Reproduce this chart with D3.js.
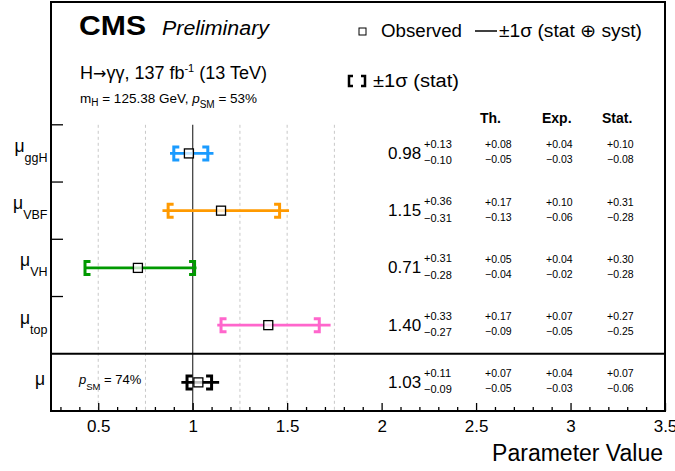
<!DOCTYPE html>
<html><head><meta charset="utf-8">
<script src="https://cdn.jsdelivr.net/npm/d3@7"></script>
<style>
body{margin:0;background:#fff;}
svg{font-family:"Liberation Sans",Arial,Helvetica,sans-serif;}
</style></head>
<body><svg id="c" width="675" height="471"></svg>
<script>
// ---- data ----
const params   = ["ggH","VBF","VH","top","incl"];
const labelSub = ["ggH","VBF","VH","top",""];
const colors   = ["#1a9bff","#ff9a00","#009900","#ff66cc","#000000"];
const observed = [0.98,1.15,0.71,1.40,1.03];
const totUp    = [0.13,0.36,0.31,0.33,0.11];
const totDn    = [0.10,0.31,0.28,0.27,0.09];
const thUp     = [0.08,0.17,0.05,0.17,0.07];
const thDn     = [0.05,0.13,0.04,0.09,0.05];
const expUp    = [0.04,0.10,0.04,0.07,0.04];
const expDn    = [0.03,0.06,0.02,0.05,0.03];
const statUp   = [0.10,0.31,0.30,0.27,0.07];
const statDn   = [0.08,0.28,0.28,0.25,0.06];
const majorTicks = [0.5,1,1.5,2,2.5,3,3.5];
const gridDashed = [0.5,0.75,1.25,1.5,1.75];

const svg = d3.select("#c");
const L=51, R=665, T=2, B=411, rowTop=124.8;
const x = d3.scaleLinear().domain([0.25,3.5]).range([L,R]);
const y = d3.scaleBand().domain(params).range([rowTop,B]).padding(0);
const f2 = d3.format(".2f");
const minus = s => s.replace("-","\u2212");

// grid
svg.selectAll("line.grid").data(gridDashed).join("line")
  .attr("x1",d=>x(d)).attr("x2",d=>x(d)).attr("y1",rowTop).attr("y2",B)
  .attr("stroke","#c8c8c8").attr("stroke-width",1).attr("stroke-dasharray","3,3");
svg.append("line").attr("x1",x(1)).attr("x2",x(1)).attr("y1",rowTop).attr("y2",B)
  .attr("stroke","#444").attr("stroke-width",1.3);

// axes ticks
const minor = d3.range(3,35).map(v=>v/10).filter(v=>Math.abs(v*2-Math.round(v*2))>1e-6);
const gMinor = svg.append("g").attr("transform",`translate(0,${B})`)
  .call(d3.axisBottom(x).tickValues(minor).tickSizeInner(-4).tickSizeOuter(0).tickFormat(""));
const gMajor = svg.append("g").attr("transform",`translate(0,${B})`)
  .call(d3.axisBottom(x).tickValues(majorTicks).tickSizeInner(-8).tickSizeOuter(0).tickPadding(9).tickFormat(d3.format("~g")));
[gMinor,gMajor].forEach(g=>{g.select(".domain").remove();g.selectAll("line").attr("stroke","#000").attr("stroke-width",1.3);});
gMajor.selectAll("text").attr("font-size",17).attr("fill","#000").attr("font-family","Liberation Sans, Arial, sans-serif");

// left ticks at row boundaries
svg.selectAll("line.ytick").data(params.slice(0,4)).join("line")
  .attr("x1",L).attr("x2",L+12).attr("y1",d=>y(d)).attr("y2",d=>y(d))
  .attr("stroke","#000").attr("stroke-width",1.3);

// frame & divider
svg.append("rect").attr("x",L).attr("y",T).attr("width",R-L).attr("height",B-T)
  .attr("fill","none").attr("stroke","#000").attr("stroke-width",2);
svg.append("line").attr("x1",L).attr("x2",R).attr("y1",y("incl")).attr("y2",y("incl"))
  .attr("stroke","#000").attr("stroke-width",2);

// error bars
params.forEach((p,i)=>{
  const cy = y(p)+y.bandwidth()/2;
  const c = colors[i];
  const g = svg.append("g");
  g.append("line").attr("x1",x(observed[i]-totDn[i])).attr("x2",x(observed[i]+totUp[i]))
    .attr("y1",cy).attr("y2",cy).attr("stroke",c).attr("stroke-width",2.6);
  const xl = x(observed[i]-statDn[i]), xr = x(observed[i]+statUp[i]);
  const h=6.5, a=5.5;
  g.append("path").attr("d",`M${xl+a},${cy-h}H${xl}V${cy+h}H${xl+a}`)
    .attr("fill","none").attr("stroke",c).attr("stroke-width",3);
  g.append("path").attr("d",`M${xr-a},${cy-h}H${xr}V${cy+h}H${xr-a}`)
    .attr("fill","none").attr("stroke",c).attr("stroke-width",3);
  g.append("rect").attr("x",x(observed[i])-4.5).attr("y",cy-4.5).attr("width",9).attr("height",9)
    .attr("fill","#fff").attr("fill-opacity",0.75).attr("stroke","#000").attr("stroke-width",1.3);

  // value column
  svg.append("text").attr("x",388).attr("y",cy+5.5).attr("font-size",17).text(f2(observed[i]));
  svg.append("text").attr("x",424).attr("y",cy-5.5).attr("font-size",11).text("+"+f2(totUp[i]));
  svg.append("text").attr("x",424).attr("y",cy+11).attr("font-size",11).text(minus("-"+f2(totDn[i])));
  [[thUp,thDn,485],[expUp,expDn,546],[statUp,statDn,607]].forEach(([u,d,xx])=>{
    svg.append("text").attr("x",xx).attr("y",cy-5).attr("font-size",10.5).text("+"+f2(u[i]));
    svg.append("text").attr("x",xx).attr("y",cy+10).attr("font-size",10.5).text(minus("-"+f2(d[i])));
  });

  // y labels
  const t = svg.append("text").attr("text-anchor","end")
    .attr("x", labelSub[i] ? 47.5 : 45).attr("y", labelSub[i] ? cy-1.5 : cy+3).attr("font-size",17.5);
  t.append("tspan").text("\u03bc");
  if(labelSub[i]) t.append("tspan").attr("font-size",12.5).attr("dy",10).text(labelSub[i]);
});

// column headers
[["Th.",480],["Exp.",542],["Stat.",602]].forEach(([s,xx])=>{
  svg.append("text").attr("x",xx).attr("y",123).attr("font-size",14).attr("font-weight","bold").text(s);
});

// header texts
svg.append("text").attr("x",79).attr("y",35).attr("font-size",28).attr("font-weight","bold")
  .attr("textLength",67).attr("lengthAdjust","spacingAndGlyphs").text("CMS");
svg.append("text").attr("x",162).attr("y",35).attr("font-size",20).attr("font-style","italic")
  .attr("textLength",107).attr("lengthAdjust","spacingAndGlyphs").text("Preliminary");
const h1 = svg.append("text").attr("x",80).attr("y",79).attr("font-size",18);
h1.append("tspan").text("H");
h1.append("tspan").attr("font-family","DejaVu Sans").attr("font-size",16).text("\u2192");
h1.append("tspan").text("\u03b3\u03b3, 137 fb");
h1.append("tspan").attr("font-size",11).attr("dy",-7).text("-1");
h1.append("tspan").attr("dy",7).text(" (13 TeV)");
const h2 = svg.append("text").attr("x",80).attr("y",103).attr("font-size",13.5);
h2.append("tspan").text("m");
h2.append("tspan").attr("font-size",10).attr("dy",3).text("H");
h2.append("tspan").attr("dy",-3).text(" = 125.38 GeV,  ");
h2.append("tspan").attr("font-style","italic").text("p");
h2.append("tspan").attr("font-size",10).attr("dy",5).text("SM");
h2.append("tspan").attr("dy",-5).text(" = 53%");
const pm = svg.append("text").attr("x",79).attr("y",384).attr("font-size",13);
pm.append("tspan").attr("font-style","italic").text("p");
pm.append("tspan").attr("font-size",9.5).attr("dy",6).text("SM");
pm.append("tspan").attr("dy",-6).text(" = 74%");

// legend
svg.append("rect").attr("x",359).attr("y",28).attr("width",7).attr("height",7)
  .attr("fill","none").attr("stroke","#000").attr("stroke-width",1);
svg.append("text").attr("x",381).attr("y",37).attr("font-size",18)
  .attr("textLength",81).attr("lengthAdjust","spacingAndGlyphs").text("Observed");
svg.append("line").attr("x1",475).attr("x2",497).attr("y1",31).attr("y2",31).attr("stroke","#000").attr("stroke-width",1.5);
svg.append("text").attr("x",499).attr("y",37).attr("font-size",18)
  .attr("textLength",143).attr("lengthAdjust","spacingAndGlyphs").text("\u00b11\u03c3 (stat \u2295 syst)");
const bx=349, by=81;
svg.append("path").attr("d",`M${bx+4},${by-5}H${bx}V${by+5}H${bx+4}`).attr("fill","none").attr("stroke","#000").attr("stroke-width",2.5);
svg.append("path").attr("d",`M${bx+12},${by-5}H${bx+16}V${by+5}H${bx+12}`).attr("fill","none").attr("stroke","#000").attr("stroke-width",2.5);
svg.append("text").attr("x",373).attr("y",87).attr("font-size",18)
  .attr("textLength",86).attr("lengthAdjust","spacingAndGlyphs").text("\u00b11\u03c3 (stat)");

// axis title
svg.append("text").attr("x",663).attr("y",461).attr("text-anchor","end").attr("font-size",23).text("Parameter Value");
</script></body></html>
